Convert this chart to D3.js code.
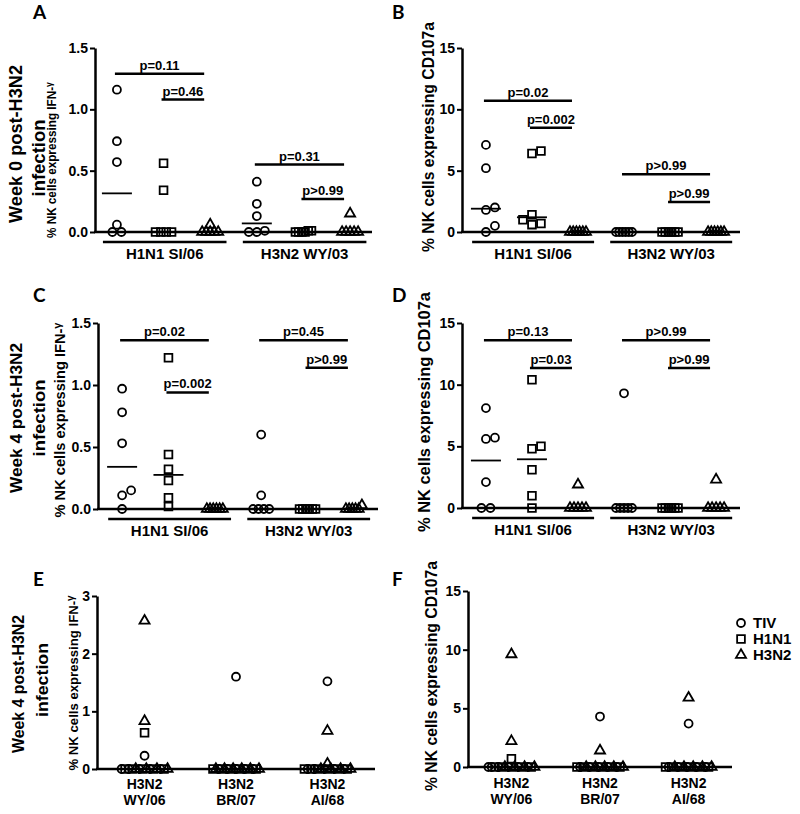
<!DOCTYPE html>
<html><head><meta charset="utf-8">
<script src="https://cdn.jsdelivr.net/npm/d3@7"></script>
<style>body{margin:0;background:#fff}</style>
</head><body>
<svg id="c" width="800" height="814"></svg>
<script>
// ---------- DATA ----------
const groups = ["TIV", "H1N1", "H3N2"];
const strainsAD = ["H1N1 SI/06", "H3N2 WY/03"];
const strainsEF = [["H3N2", "WY/06"], ["H3N2", "BR/07"], ["H3N2", "AI/68"]];
const ticksIFN = [0, 0.5, 1, 1.5];
const ticksCD = [0, 5, 10, 15];
const ticksE = [0, 1, 2, 3];

// each strain: [TIV values, H1N1 values, H3N2 values]
const A_SI06 = [[1.16, 0.74, 0.57, 0.06, 0, 0], [0.56, 0.34, 0, 0, 0, 0], [0.06, 0, 0, 0, 0, 0]];
const A_WY03 = [[0.41, 0.23, 0.13, 0.01, 0, 0], [0.01, 0.01, 0, 0, 0, 0], [0.15, 0, 0, 0, 0, 0]];
const B_SI06 = [[7.1, 5.2, 2.0, 1.8, 0.5, 0], [6.6, 6.4, 1.4, 1.0, 0.7, 0.6], [0, 0, 0, 0, 0, 0]];
const B_WY03 = [[0, 0, 0, 0, 0, 0], [0, 0, 0, 0, 0, 0], [0, 0, 0, 0, 0, 0]];
const C_SI06 = [[0.97, 0.78, 0.53, 0.15, 0.11, 0], [1.22, 0.44, 0.32, 0.23, 0.09, 0.02], [0, 0, 0, 0, 0, 0]];
const C_WY03 = [[0.6, 0.11, 0, 0, 0, 0], [0, 0, 0, 0, 0, 0], [0.03, 0, 0, 0, 0, 0]];
const D_SI06 = [[8.1, 5.7, 5.6, 2.1, 0, 0], [10.4, 5.0, 4.8, 3.1, 1.0, 0], [1.9, 0, 0, 0, 0, 0]];
const D_WY03 = [[9.3, 0, 0, 0, 0, 0], [0, 0, 0, 0, 0, 0], [2.3, 0, 0, 0, 0, 0]];

const E_WY06 = [[0.23, 0, 0, 0, 0, 0], [0.63, 0, 0, 0, 0, 0], [2.57, 0.83, 0, 0, 0, 0]];
const E_BR07 = [[1.6, 0, 0, 0, 0, 0], [0, 0, 0, 0, 0, 0], [0, 0, 0, 0, 0, 0]];
const E_AI68 = [[1.52, 0, 0, 0, 0, 0], [0, 0, 0, 0, 0, 0], [0.66, 0.09, 0, 0, 0, 0]];
const F_WY06 = [[0, 0, 0, 0, 0, 0], [0.7, 0, 0, 0, 0, 0], [9.6, 2.2, 0, 0, 0, 0]];
const F_BR07 = [[4.3, 0, 0, 0, 0, 0], [0, 0, 0, 0, 0, 0], [1.4, 0, 0, 0, 0, 0]];
const F_AI68 = [[3.7, 0, 0, 0, 0, 0], [0, 0, 0, 0, 0, 0], [5.9, 0, 0, 0, 0, 0]];

// p-value comparisons: [label, from group index, to group index, bar height (data units)]
const A_pvals = [["p=0.11", 0, 2, 1.29], ["p=0.46", 1, 2, 1.08], ["p=0.31", 3, 5, 0.55], ["p>0.99", 4, 5, 0.27]];
const B_pvals = [["p=0.02", 0, 2, 10.7], ["p=0.002", 1, 2, 8.5], ["p>0.99", 3, 5, 4.7], ["p>0.99", 4, 5, 2.45]];
const C_pvals = [["p=0.02", 0, 2, 1.36], ["p=0.002", 1, 2, 0.94], ["p=0.45", 3, 5, 1.36], ["p>0.99", 4, 5, 1.14]];
const D_pvals = [["p=0.13", 0, 2, 13.6], ["p=0.03", 1, 2, 11.35], ["p>0.99", 3, 5, 13.6], ["p>0.99", 4, 5, 11.35]];

// ---------- DRAWING ----------
const svg = d3.select("#c");
const FONT = "Arial, 'Liberation Sans', Helvetica, sans-serif";
const symTypes = [d3.symbolCircle, d3.symbolSquare, d3.symbolTriangle];
const symSizes = [50, 60, 44];

function txt(x, y, s, size, anchor) {
  return svg.append("text").attr("x", x).attr("y", y).text(s)
    .attr("font-family", FONT).attr("font-weight", "bold").attr("font-size", size)
    .attr("text-anchor", anchor || "middle").attr("fill", "#000");
}

function swarm(items, cx, y, step, rowW, rowCollide) {
  const y0 = y(0);
  const row = items.filter(d => y0 - y(d.v) < 4)
    .sort((a, b) => a.v - b.v || a.r - b.r || a.g - b.g);
  const rest = items.filter(d => y0 - y(d.v) >= 4).sort((a, b) => a.v - b.v);
  const out = [];
  const n = row.length, sp = n > 1 ? Math.min(step, rowW / (n - 1)) : 0;
  row.forEach((d, i) => out.push({...d, x: cx + (i - (n - 1) / 2) * sp, y: y(d.v), row: true}));
  rest.forEach(d => {
    const py = y(d.v);
    for (let k = 0; k < 60; k++) {
      const off = k === 0 ? 0 : (k % 2 ? 1 : -1) * Math.ceil(k / 2) * step;
      const px = cx + off;
      const hit = out.some(p => (rowCollide || !p.row) && Math.abs(p.y - py) < 7 && Math.abs(p.x - px) < step - 0.5);
      if (!hit) { out.push({...d, x: px, y: py}); break; }
    }
  });
  return out;
}

function drawPoints(pts) {
  pts.sort((a, b) => a.g - b.g);
  svg.append("g").selectAll("path").data(pts).join("path")
    .attr("d", d => d3.symbol().type(symTypes[d.g]).size(symSizes[d.g])())
    .attr("transform", d => `translate(${d.x},${d.y})`)
    .attr("fill", "none").attr("stroke", "#000").attr("stroke-width", 1.8);
}

function axes(cfg) {
  const y = d3.scaleLinear().domain([0, cfg.max]).range([cfg.yb, cfg.yt]);
  const x = d3.scalePoint().domain(d3.range(cfg.n)).range([cfg.x0, cfg.x1]).padding(cfg.pad);
  const ax = svg.append("g").attr("transform", `translate(${cfg.x0},0)`)
    .call(d3.axisLeft(y).tickValues(cfg.ticks).tickFormat(d3.format(cfg.fmt))
      .tickSize(5).tickSizeOuter(0).tickPadding(2));
  ax.select(".domain").attr("stroke-width", 2.5);
  ax.selectAll(".tick line").attr("stroke-width", 2);
  ax.selectAll(".tick text").attr("font-size", 14).attr("font-family", FONT)
    .attr("font-weight", "bold").attr("fill", "#000");
  svg.append("line").attr("x1", cfg.x0 - 1).attr("x2", cfg.x1).attr("y1", y(0)).attr("y2", y(0))
    .attr("stroke", "#000").attr("stroke-width", 2.5);
  return {x, y};
}

function yTitle(x, cy, size, len, main, sub) {
  const t = svg.append("text").attr("transform", `translate(${x},${cy}) rotate(-90)`)
    .attr("text-anchor", "middle").attr("font-family", FONT).attr("font-weight", "bold")
    .attr("font-size", size).attr("fill", "#000")
    .attr("textLength", len).attr("lengthAdjust", "spacingAndGlyphs");
  t.append("tspan").text(main);
  if (sub) t.append("tspan").attr("font-size", size * 0.75).attr("dy", -size * 0.3).text(sub);
}

function rowLabel(x1, c1, len1, x2, c2, len2, size, l1, l2) {
  [[x1, c1, len1, l1], [x2, c2, len2, l2]].forEach(([x, c, len, s]) => {
    svg.append("text").attr("transform", `translate(${x},${c}) rotate(-90)`)
      .attr("text-anchor", "middle").attr("font-family", FONT).attr("font-weight", "bold")
      .attr("font-size", size).attr("fill", "#000")
      .attr("textLength", len).attr("lengthAdjust", "spacingAndGlyphs").text(s);
  });
}

function panelAD(cfg, strainData, pvals) {
  const {x, y} = axes({...cfg, n: 6});
  const step = x.step();
  strainsAD.forEach((s, i) => {
    const xa = x(i * 3) - 0.3 * step, xb = x(i * 3 + 2) + 0.35 * step;
    svg.append("line").attr("x1", xa).attr("x2", xb).attr("y1", y(0) + 10).attr("y2", y(0) + 10)
      .attr("stroke", "#000").attr("stroke-width", 2.5);
    txt((xa + xb) / 2, y(0) + 27, s, 15);
  });
  let pts = [];
  strainData.forEach((strain, si) => strain.forEach((vals, gi) => {
    const items = vals.map((v, r) => ({v, g: gi, r}));
    pts = pts.concat(swarm(items, x(si * 3 + gi), y, 9, 16, true));
  }));
  drawPoints(pts);
  strainData.forEach((strain, si) => strain.forEach((vals, gi) => {
    const m = d3.median(vals), cx = x(si * 3 + gi);
    svg.append("line").attr("x1", cx - 15).attr("x2", cx + 15).attr("y1", y(m)).attr("y2", y(m))
      .attr("stroke", "#000").attr("stroke-width", 1.8);
  }));
  pvals.forEach(([t, i, j, v]) => {
    const x1 = x(i) - 2, x2 = x(j) - 6, yy = y(v);
    svg.append("line").attr("x1", x1).attr("x2", x2).attr("y1", yy).attr("y2", yy)
      .attr("stroke", "#000").attr("stroke-width", 2.5);
    txt((x1 + x2) / 2, yy - 4, t, 13);
  });
}

function panelEF(cfg, cats) {
  const {x, y} = axes({...cfg, n: 3});
  strainsEF.forEach((s, i) => {
    txt(x(i), y(0) + cfg.lab1, s[0], 14);
    txt(x(i), y(0) + cfg.lab1 + 16, s[1], 14);
  });
  let pts = [];
  cats.forEach((cat, ci) => {
    const items = [];
    cat.forEach((vals, gi) => vals.forEach((v, r) => items.push({v, g: gi, r})));
    pts = pts.concat(swarm(items, x(ci), y, 9, 46, false));
  });
  drawPoints(pts);
}

// Panel letters
[["A", 33, 19], ["B", 392, 19], ["C", 33, 302], ["D", 392, 302], ["E", 33, 586], ["F", 392, 586]]
  .forEach(([l, xx, yy]) => svg.append("text").attr("x", xx).attr("y", yy).text(l)
    .attr("font-family", "Lato, 'Open Sans', sans-serif").attr("font-weight", "bold")
    .attr("font-size", 19).attr("fill", "#000"));

// Row labels
rowLabel(22, 144, 158, 45, 158, 77, 18, "Week 0 post-H3N2", "infection");
rowLabel(22, 418, 150, 45, 418, 77, 17, "Week 4 post-H3N2", "infection");
rowLabel(24, 684, 138, 48, 680, 74, 16, "Week 4 post-H3N2", "infection");

// Y titles
yTitle(56, 160, 13, 156, "% NK cells expressing IFN-", "γ");
yTitle(434, 137, 16.5, 230, "% NK cells expressing CD107a");
yTitle(65, 420, 14, 195, "% NK cells expressing IFN-", "γ");
yTitle(430, 412, 16.5, 240, "% NK cells expressing CD107a");
yTitle(78, 683, 13.5, 175, "% NK cells expressing IFN-", "γ");
yTitle(437, 676, 16.5, 230, "% NK cells expressing CD107a");

panelAD({x0: 95, x1: 372, yb: 232, yt: 48, max: 1.5, pad: 0.47, ticks: ticksIFN, fmt: ".1f"}, [A_SI06, A_WY03], A_pvals);
panelAD({x0: 462, x1: 740, yb: 232, yt: 48, max: 15, pad: 0.52, ticks: ticksCD, fmt: "d"}, [B_SI06, B_WY03], B_pvals);
panelAD({x0: 98, x1: 378, yb: 509, yt: 323, max: 1.5, pad: 0.52, ticks: ticksIFN, fmt: ".1f"}, [C_SI06, C_WY03], C_pvals);
panelAD({x0: 462, x1: 740, yb: 508, yt: 323, max: 15, pad: 0.52, ticks: ticksCD, fmt: "d"}, [D_SI06, D_WY03], D_pvals);
panelEF({x0: 97, x1: 375, yb: 769, yt: 596, max: 3, pad: 0.52, ticks: ticksE, fmt: "d", lab1: 20}, [E_WY06, E_BR07, E_AI68]);
panelEF({x0: 468, x1: 732, yb: 767, yt: 591, max: 15, pad: 0.49, ticks: ticksCD, fmt: "d", lab1: 21}, [F_WY06, F_BR07, F_AI68]);

// Legend
groups.forEach((gname, i) => {
  const yy = 623 + i * 16;
  svg.append("path").attr("d", d3.symbol().type(symTypes[i]).size(symSizes[i])())
    .attr("transform", `translate(741,${yy})`).attr("fill", "none").attr("stroke", "#000").attr("stroke-width", 1.8);
  txt(753, yy + 5, gname, 15, "start");
});
</script>
</body></html>
